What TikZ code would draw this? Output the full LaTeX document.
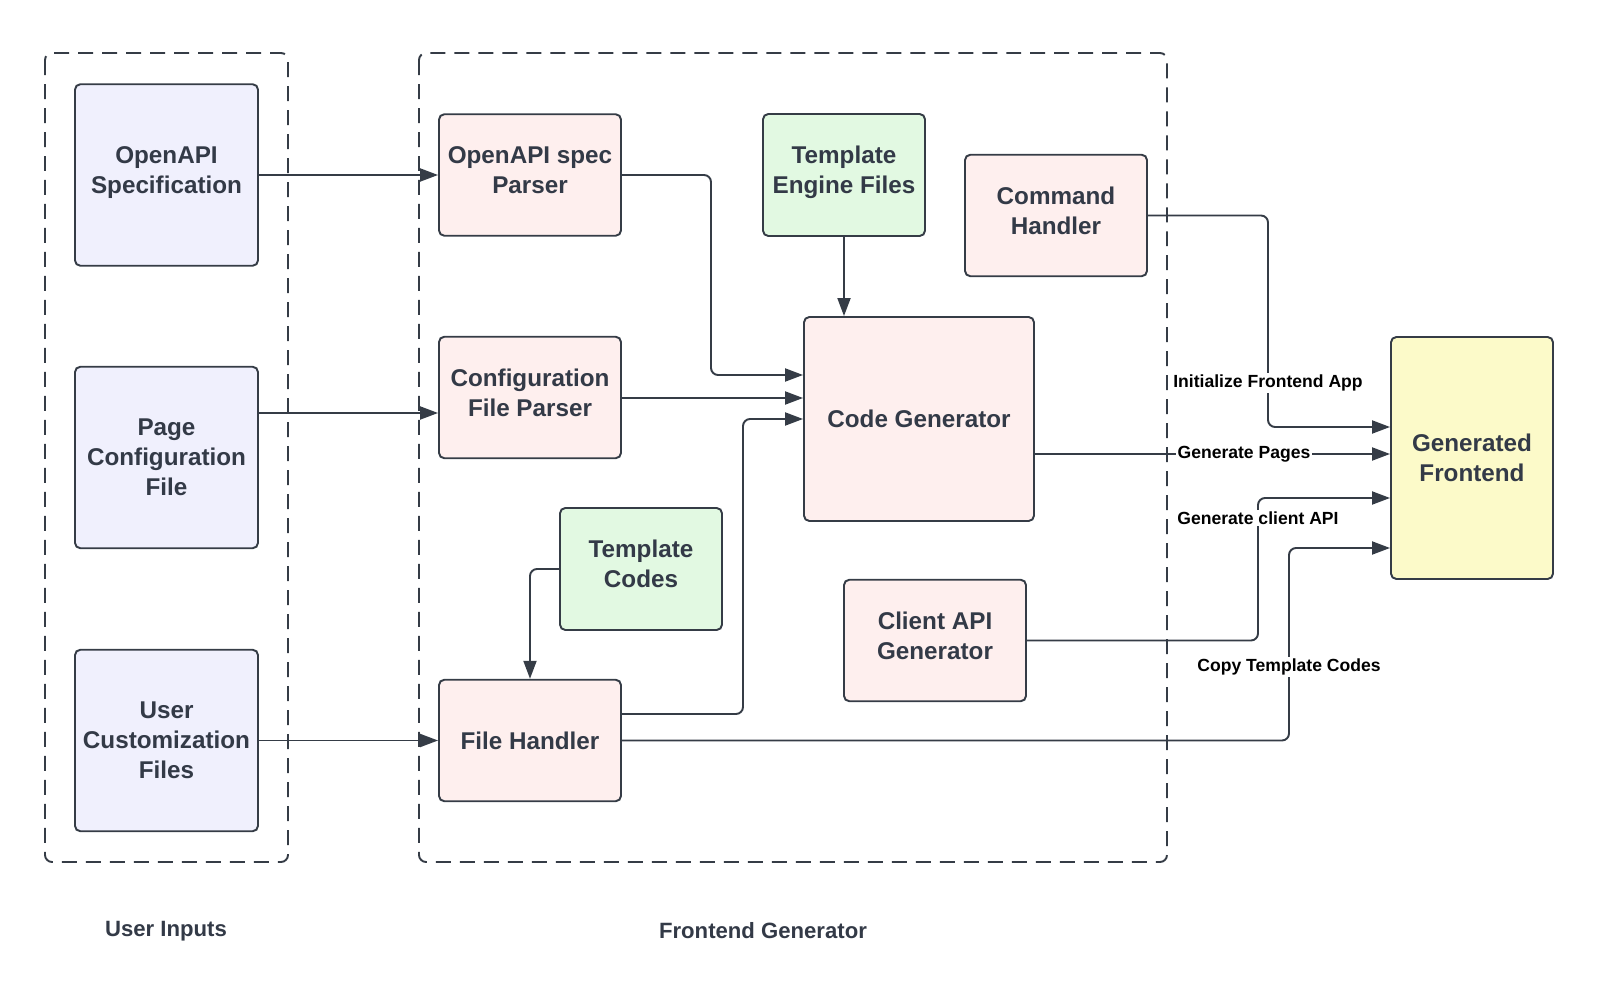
\documentclass[tikz,border=0pt]{standalone}
\usepackage{fontspec}
\setmainfont{Liberation Sans}
\usetikzlibrary{arrows.meta}
\definecolor{inkline}{HTML}{353C46}
\definecolor{inktext}{HTML}{333A47}
\definecolor{inputfill}{HTML}{F0F0FD}
\definecolor{stepfill}{HTML}{FEEFEE}
\definecolor{tplfill}{HTML}{E2F9E2}
\definecolor{outfill}{HTML}{FCFAC9}

\begin{document}
\begin{tikzpicture}[x=0.02cm,y=-0.02cm,
    box/.style={draw=inkline,line width=1.1pt,rounded corners=3pt,align=center,
      font=\fontsize{13.8}{17}\selectfont\bfseries,text=inktext,inner sep=2pt},
    lift/.style={text height=27pt,text depth=5.8pt},
    inbox/.style={box,fill=inputfill,minimum width=3.66cm,minimum height=3.63cm},
    stepbox/.style={box,fill=stepfill,minimum width=3.64cm,minimum height=2.43cm},
    tplbox/.style={box,lift,fill=tplfill,minimum width=3.24cm,minimum height=2.44cm},
    group/.style={draw=inkline,line width=1.1pt,rounded corners=4pt,
      dash pattern=on 0.3cm off 0.18cm},
    conn/.style={draw=inkline,line width=1.1pt,rounded corners=4pt,
      -{Triangle[length=0.36cm,width=0.26cm]}},
    lbl/.style={fill=white,inner sep=1pt,font=\fontsize{10}{12}\selectfont\bfseries},
    grouplbl/.style={font=\fontsize{12.6}{15}\selectfont\bfseries,text=inktext}]
  \useasboundingbox (0,0) rectangle (1600,989);

  % groups
  \draw[group] (45,53) rectangle (288,862);
  \draw[group] (419,53) rectangle (1167,862);

  % user inputs
  \node[inbox,lift] (spec) at (166.5,175) {OpenAPI\\Specification};
  \node[inbox] (pcfg) at (166.5,457.5) {Page\\Configuration\\File};
  \node[inbox] (ucust) at (166.5,740.5) {User\\Customization\\Files};

  % generator parts
  \node[stepbox,lift] (parser) at (530,175) {OpenAPI spec\\Parser};
  \node[stepbox,lift] (cfgp) at (530,397.5) {Configuration\\File Parser};
  \node[stepbox] (fhand) at (530,740.5) {File Handler};
  \node[tplbox] (tcodes) at (641,569) {Template\\Codes};
  \node[tplbox] (tengine) at (844,175) {Template\\Engine Files};
  \node[stepbox,lift] (cmd) at (1056,215.5) {Command\\Handler};
  \node[stepbox,minimum width=4.6cm,minimum height=4.08cm] (codegen) at (919,419) {Code Generator};
  \node[stepbox,lift] (client) at (935,640.5) {Client API\\Generator};

  % output
  \node[box,fill=outfill,minimum width=3.24cm,minimum height=4.84cm] (genf) at (1472,458) {Generated\\Frontend};

  % connectors
  \draw[conn] (spec.east) -- (parser.west);
  \draw[conn] (pcfg.east |- 0,413) -- (cfgp.west |- 0,413);
  \draw[conn] (ucust.east) -- (fhand.west);
  \draw[conn] (parser.east) -| (711,375) -- (codegen.west |- 0,375);
  \draw[conn] (cfgp.east |- 0,398) -- (codegen.west |- 0,398);
  \draw[conn] (fhand.east |- 0,714) -| (743,419) -- (codegen.west);
  \draw[conn] (tengine.south) -- (codegen.north -| tengine.south);
  \draw[conn] (tcodes.west) -| (fhand.north);
  \draw[conn] (cmd.east) -| (1268,427) -- (genf.west |- 0,427);
  \draw[conn] (codegen.east |- 0,454) -- (genf.west |- 0,454);
  \draw[conn] (client.east) -| (1258,498) -- (genf.west |- 0,498);
  \draw[conn] (fhand.east) -| (1289,548) -- (genf.west |- 0,548);

  % labels
  \node[lbl] (initlbl) at (1268,383) {Initialize Frontend App};
  \node[lbl] (pageslbl) at (1244,454) {Generate Pages};
  \node[lbl] (apilbl) at (1258,518) {Generate client API};
  \node[lbl] (copylbl) at (1289,667) {Copy Template Codes};

  \node[grouplbl] (inlbl) at (166,931) {User Inputs};
  \node[grouplbl] (genlbl) at (763,931) {Frontend Generator};
\end{tikzpicture}
\end{document}
